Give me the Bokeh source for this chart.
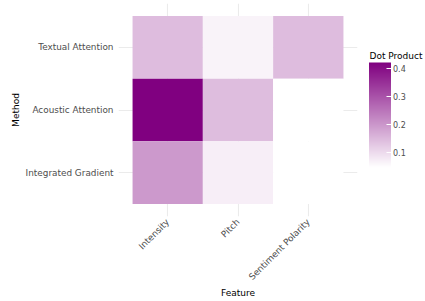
import numpy as np
from bokeh.plotting import figure
from bokeh.models import (FactorRange, LinearColorMapper, ColorBar, FixedTicker,
                          ColumnDataSource)
from bokeh.transform import transform
from bokeh.embed import file_html
from bokeh.resources import INLINE
from math import pi

features = ["Intensity", "Pitch", "Sentiment Polarity"]
methods = ["Textual Attention", "Acoustic Attention", "Integrated Gradient"]
textual = [0.145, 0.064, 0.145]
acoustic = [0.421, 0.143, 0.046]
integrated = [0.196, 0.071, 0.046]
cbar_ticks = [0.1, 0.2, 0.3, 0.4]
legend_title = "Dot Product"

xs, ys, vs = [], [], []
for m, row in zip(methods, [textual, acoustic, integrated]):
    for f, v in zip(features, row):
        xs.append(f)
        ys.append(m)
        vs.append(v)
src = ColumnDataSource(dict(x=xs, y=ys, v=vs))

# white -> purple, linear in RGB
palette = []
for t in np.linspace(0, 1, 256):
    r = round(255 + t * (128 - 255))
    g = round(255 * (1 - t))
    palette.append("#%02x%02x%02x" % (r, g, r))
mapper = LinearColorMapper(palette=palette, low=min(vs), high=max(vs))

FONT = "DejaVu Sans"

p = figure(
    x_range=FactorRange(factors=features, range_padding=0.2, range_padding_units="absolute"),
    y_range=FactorRange(factors=methods[::-1], range_padding=0.2, range_padding_units="absolute"),
    width=425, height=301,
    min_border_left=118, min_border_right=68, min_border_top=3, min_border_bottom=84,
    output_backend="svg", toolbar_location=None,
)
p.outline_line_color = None
p.border_fill_color = "white"
p.background_fill_color = "white"

p.rect(x="x", y="y", width=1, height=1, source=src,
       fill_color=transform("v", mapper), line_color=None)

for ax in (p.xaxis[0], p.yaxis[0]):
    ax.axis_line_color = None
    ax.major_tick_line_color = None
    ax.minor_tick_line_color = None
    ax.major_tick_out = 0
    ax.major_tick_in = 0
    ax.major_label_text_font = FONT
    ax.major_label_text_font_size = "8.9px"
    ax.major_label_text_color = "#4d4d4d"
    ax.axis_label_text_font = FONT
    ax.axis_label_text_font_size = "9px"
    ax.axis_label_text_font_style = "normal"
    ax.axis_label_text_color = "black"

p.xaxis.axis_label = "Feature"
p.yaxis.axis_label = "Method"
p.xaxis.major_label_orientation = pi / 4
p.xaxis.major_label_standoff = 4
p.yaxis.major_label_standoff = 5
p.xaxis.axis_label_standoff = 0
p.yaxis.axis_label_standoff = 2

p.xgrid.grid_line_color = "#ebebeb"
p.ygrid.grid_line_color = "#ebebeb"
p.xgrid.grid_line_width = 1.1
p.ygrid.grid_line_width = 1.1

cb = ColorBar(
    color_mapper=mapper, ticker=FixedTicker(ticks=cbar_ticks),
    width=22, height=105, location=(250.5, 49), padding=0,
    title=None,
    major_label_text_font=FONT, major_label_text_font_size="8px",
    major_label_text_color="#4d4d4d",
    major_tick_line_color="white", major_tick_in=5, major_tick_out=0,
    bar_line_color=None, border_line_color=None, background_fill_alpha=0,
    label_standoff=2,
)
p.add_layout(cb, "center")

# horizontal, invisible bar used only to hold the legend title (drawn horizontally)
cb_title = ColorBar(
    color_mapper=mapper, ticker=FixedTicker(ticks=[]), orientation="horizontal",
    width=55, height=1, location=(251, 155), padding=0, scale_alpha=0,
    title=legend_title, title_text_font=FONT, title_text_font_size="9px",
    title_text_font_style="normal", title_text_color="black", title_standoff=0,
    major_label_text_alpha=0, major_tick_line_color=None, minor_tick_line_color=None,
    bar_line_color=None, border_line_color=None, background_fill_alpha=0,
    label_standoff=0,
)
p.add_layout(cb_title, "center")

open("out.html", "w").write(file_html(p, INLINE))
